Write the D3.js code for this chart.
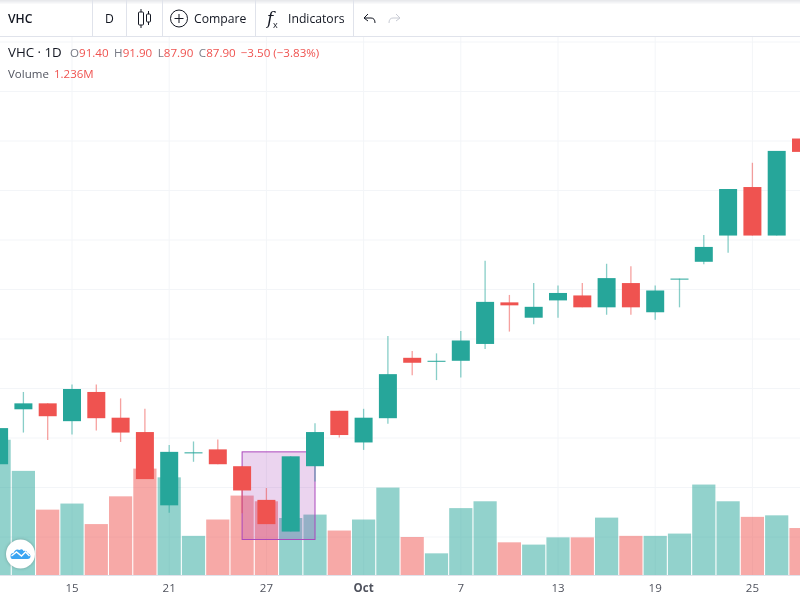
<!DOCTYPE html>
<html>
<head>
<meta charset="utf-8">
<script src="https://cdn.jsdelivr.net/npm/d3@7/dist/d3.min.js"></script>
<style>
  html, body { margin: 0; padding: 0; background: #fff; overflow: hidden; }
  svg { display: block; font-family: "Open Sans", sans-serif; filter: blur(0.35px); }
</style>
</head>
<body>
<div id="chart"></div>
<script>
// chart values
const dates = ["09-10","09-11","09-14","09-15","09-16","09-17","09-18","09-21","09-22","09-23","09-24",
  "09-27","09-28","09-29","09-30","10-01","10-02","10-05","10-06","10-07","10-08","10-09","10-12","10-13",
  "10-14","10-15","10-16","10-19","10-20","10-21","10-22","10-25","10-26","10-27"];
const opens = [31.47,32.58,32.70,32.34,32.93,32.41,32.12,30.64,31.71,31.77,31.43,30.75,30.11,31.43,32.55,31.91,
  32.40,33.62,33.56,33.56,33.90,34.74,34.43,34.78,34.88,34.64,35.13,34.54,35.22,35.56,36.09,37.07,36.09,38.05];
const highs = [32.20,32.93,32.70,33.08,33.08,32.80,32.59,31.86,31.93,31.97,31.43,30.99,31.63,32.30,32.55,32.59,
  34.06,33.76,33.71,34.16,35.58,34.89,35.13,35.08,35.13,35.52,35.47,35.08,35.22,36.10,37.03,37.56,37.80,38.05];
const lows = [31.47,32.11,31.96,32.07,32.15,31.92,31.17,30.49,31.52,31.47,30.48,30.26,30.11,31.12,32.01,31.76,
  32.29,33.27,33.17,33.22,33.80,34.15,34.30,34.43,34.64,34.49,34.49,34.39,34.64,35.51,35.74,36.09,36.09,37.78];
const closes = [32.20,32.70,32.44,32.99,32.40,32.11,31.17,31.72,31.71,31.47,30.94,30.26,31.63,32.12,32.06,32.41,
  33.29,33.52,33.56,33.97,34.75,34.68,34.65,34.93,34.64,35.23,34.64,34.98,35.22,35.86,37.03,36.09,37.80,37.78];
const volumes = [3.56,2.74,1.72,1.88,1.34,2.07,2.80,2.57,1.03,1.46,2.09,1.94,1.50,1.59,1.17,1.46,2.30,1.00,0.57,
  1.76,1.94,0.86,0.80,0.99,0.99,1.51,1.03,1.03,1.09,2.38,1.94,1.53,1.57,1.236];

const tickDates  = ["09-15","09-21","09-27","10-01","10-07","10-13","10-19","10-25"];
const tickLabels = ["15","21","27","Oct","7","13","19","25"];
const priceTicks = [30,31,32,33,34,35,36,37,38,39,40];

// rectangle drawn on the chart: first bar, last bar, top and bottom price
const boxDates  = ["09-24","09-29"];
const boxPrices = [31.72,29.95];

// header readout
const symbol = "VHC";
const ohlcKeys = ["O","H","L","C"];
const ohlcVals = ["91.40","91.90","87.90","87.90"];
const changeText = "\u22123.50 (\u22123.83%)";
const volumeText = "1.236M";

const upColor = "#26a69a";
const downColor = "#ef5350";
const gridColor = "#f3f5f8";
const lineColor = "#e0e3eb";
const textColor = "#131722";

const width = 800, height = 600;
const paneTop = 37, paneBottom = 575;

const svg = d3.select("#chart").append("svg")
  .attr("width", width)
  .attr("height", height);

const x = d3.scaleBand().domain(dates).range([-13.05, 813.15]);
const y = d3.scaleLinear().domain([30, 40]).range([537, 42]);
const yVol = d3.scaleLinear().domain([0, 4]).range([paneBottom, paneBottom - 152]);
const cx = d => x(d) + x.bandwidth() / 2;

// grid
svg.append("g").selectAll("line").data(priceTicks).enter().append("line")
  .attr("x1", 0).attr("x2", width)
  .attr("y1", d => y(d)).attr("y2", d => y(d))
  .attr("stroke", gridColor);
svg.append("g").selectAll("line").data(tickDates).enter().append("line")
  .attr("x1", cx).attr("x2", cx)
  .attr("y1", paneTop).attr("y2", paneBottom)
  .attr("stroke", gridColor);

// volume
svg.append("g").selectAll("rect").data(dates).enter().append("rect")
  .attr("x", d => cx(d) - 11.6)
  .attr("width", 23.2)
  .attr("y", (d, i) => yVol(volumes[i]))
  .attr("height", (d, i) => paneBottom - yVol(volumes[i]))
  .attr("fill", (d, i) => closes[i] >= opens[i] ? upColor : downColor)
  .attr("fill-opacity", 0.5);

// purple box
svg.append("rect")
  .attr("x", cx(boxDates[0]))
  .attr("width", cx(boxDates[1]) - cx(boxDates[0]))
  .attr("y", y(boxPrices[0]))
  .attr("height", y(boxPrices[1]) - y(boxPrices[0]))
  .attr("fill", "#9c27b0")
  .attr("fill-opacity", 0.2)
  .attr("stroke", "#ab47bc");

// candles
const candles = svg.append("g").selectAll("g").data(dates).enter().append("g");
candles.append("line")
  .attr("x1", cx).attr("x2", cx)
  .attr("y1", (d, i) => y(highs[i]))
  .attr("y2", (d, i) => y(lows[i]))
  .attr("stroke", (d, i) => closes[i] >= opens[i] ? upColor : downColor)
  .attr("stroke-width", 1.3)
  .attr("stroke-opacity", 0.55);
candles.append("rect")
  .attr("x", d => cx(d) - 9)
  .attr("width", 18)
  .attr("y", (d, i) => y(Math.max(opens[i], closes[i])))
  .attr("height", (d, i) => Math.max(1, Math.abs(y(opens[i]) - y(closes[i]))))
  .attr("fill", (d, i) => closes[i] >= opens[i] ? upColor : downColor);

// time axis
const axis = d3.axisBottom(x)
  .tickValues(tickDates)
  .tickSize(0)
  .tickPadding(9)
  .tickFormat((d, i) => tickLabels[i]);
const axisG = svg.append("g")
  .attr("transform", `translate(0,${paneBottom})`)
  .call(axis);
axisG.select(".domain").remove();
axisG.selectAll("text")
  .attr("fill", "#50535e")
  .style("font-size", "11.5px")
  .style("font-family", '"Open Sans", sans-serif')
  .style("font-weight", d => d === "10-01" ? 700 : 400);
svg.append("line")
  .attr("x1", 0).attr("x2", width)
  .attr("y1", paneBottom + 0.5).attr("y2", paneBottom + 0.5)
  .attr("stroke", lineColor);

// toolbar
svg.append("rect").attr("width", width).attr("height", 36).attr("fill", "#fff");
svg.append("g").selectAll("rect").data([0, 1, 2, 3]).enter().append("rect")
  .attr("y", d => d).attr("width", width).attr("height", 1)
  .attr("fill", "#d8dae0").attr("fill-opacity", d => 0.6 - d * 0.15);
svg.append("line")
  .attr("x1", 0).attr("x2", width)
  .attr("y1", 36.5).attr("y2", 36.5)
  .attr("stroke", lineColor);
svg.append("g").selectAll("line").data([92, 126, 162, 255, 353]).enter().append("line")
  .attr("x1", d => d + 0.5).attr("x2", d => d + 0.5)
  .attr("y1", 0).attr("y2", 36)
  .attr("stroke", lineColor);

const toolText = (t, tx, weight) => svg.append("text")
  .attr("x", tx).attr("y", 23)
  .attr("fill", textColor)
  .style("font-size", "12.2px")
  .style("font-weight", weight || 400)
  .text(t);
toolText(symbol, 8, 600);
toolText("D", 105);
toolText("Compare", 194);
toolText("Indicators", 288);

// candle icon
const icon = svg.append("g").attr("fill", "none").attr("stroke", textColor);
icon.append("path").attr("d", "M141 9V12M141 25V28M148.5 11V14M148.5 22V25");
icon.append("rect").attr("x", 138.5).attr("y", 12).attr("width", 5).attr("height", 13).attr("rx", 1);
icon.append("rect").attr("x", 146.5).attr("y", 14).attr("width", 4).attr("height", 8).attr("rx", 1);
// compare icon
icon.append("circle").attr("cx", 179).attr("cy", 18.5).attr("r", 8.5);
icon.append("path").attr("d", "M179 14V23M174.5 18.5H183.5");
// undo and redo
icon.append("path").attr("d", "M368 14L364 18L368 21M364 18H371Q375 18 375 23");
icon.append("path").attr("d", "M396 14L400 18L396 21M400 18H393Q389 18 389 23").attr("stroke", "#c8cbd4");
// fx icon
svg.append("text").attr("x", 267).attr("y", 24)
  .attr("fill", textColor)
  .style("font-family", '"DejaVu Serif", serif').style("font-style", "italic").style("font-size", "17px")
  .text("f");
svg.append("text").attr("x", 273).attr("y", 28)
  .attr("fill", textColor)
  .style("font-size", "9px")
  .text("x");

// legend
svg.append("text").attr("x", 8).attr("y", 57)
  .attr("fill", textColor)
  .style("font-size", "13.3px")
  .text(`${symbol} \u00b7 1D`);
const ohlc = svg.append("text").attr("x", 70).attr("y", 57).style("font-size", "11.6px");
ohlcKeys.forEach((k, i) => {
  ohlc.append("tspan").attr("dx", i ? 5.5 : 0).attr("fill", "#787b86").text(k);
  ohlc.append("tspan").attr("fill", downColor).text(ohlcVals[i]);
});
ohlc.append("tspan").attr("dx", 5).attr("fill", downColor).text(changeText);
svg.append("text").attr("x", 8).attr("y", 78)
  .attr("fill", "#50535e")
  .style("font-size", "11.5px")
  .text("Volume");
svg.append("text").attr("x", 54).attr("y", 78)
  .attr("fill", downColor)
  .style("font-size", "11.5px")
  .text(volumeText);

// logo
const logo = svg.append("g").attr("transform", "translate(20.5,554)");
logo.append("circle").attr("r", 14.5).attr("fill", "#fff")
  .style("filter", "drop-shadow(0 0 1.5px rgba(0,0,0,0.25))");
logo.append("path")
  .attr("d", "M-8 5Q-10 5 -10 2Q-10 -1 -7 -1Q-5 -6 -1 -4Q2 -6 3 -3Q6 -4 7 -1Q10 0 10 2Q10 5 7 5Z")
  .attr("fill", "#3ba5f2");
logo.append("path")
  .attr("d", "M-9 2L-4 -2L1 2L5 -2L9 2")
  .attr("fill", "none").attr("stroke", "#fff").attr("stroke-width", 1.4);
</script>
</body>
</html>
